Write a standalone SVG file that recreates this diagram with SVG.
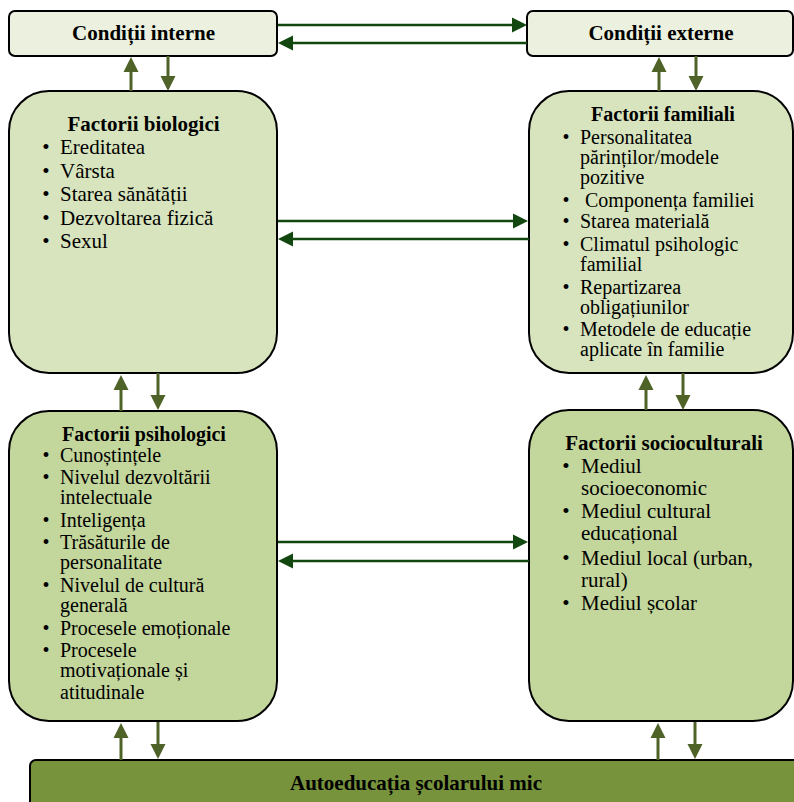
<svg xmlns="http://www.w3.org/2000/svg" width="794" height="802" viewBox="0 0 794 802">
<style>
.box{stroke:#000;stroke-width:2}
.c1{fill:#ebf1de}
.c2{fill:#d7e4bd}
.c3{fill:#c3d69b}
.c4{fill:#77933c}
text{font-family:"Liberation Serif","Times New Roman",serif;fill:#000}
.t{font-weight:bold;text-anchor:middle}
.s21{font-size:21px}
.s20{font-size:20px}
.b{text-anchor:middle}
.dg{stroke:#12470f;stroke-width:2.6;fill:none}
.ol{stroke:#4f6228;stroke-width:3;fill:none}
</style>
<defs>
<marker id="ahD" markerUnits="userSpaceOnUse" markerWidth="16" markerHeight="16" viewBox="0 0 16 16" refX="1" refY="8" orient="auto">
<path d="M0,0.5 L15,8 L0,15.5 z" fill="#12470f"/>
</marker>
<marker id="ahO" markerUnits="userSpaceOnUse" markerWidth="16" markerHeight="16" viewBox="0 0 16 16" refX="1" refY="8" orient="auto">
<path d="M0,0.5 L15,8 L0,15.5 z" fill="#4f6228"/>
</marker>
</defs>

<g id="conditii-interne">
<rect class="box c1" x="9" y="11" width="268" height="45" rx="6"/>
<text class="t s21" x="143.5" y="40">Condiții interne</text>
</g>

<g id="conditii-externe">
<rect class="box c1" x="527" y="11" width="266" height="45" rx="6"/>
<text class="t s21" x="661" y="40">Condiții externe</text>
</g>

<g id="factorii-biologici">
<rect class="box c2" x="9" y="91" width="268" height="282" rx="40"/>
<text class="t s21" x="143.5" y="131">Factorii biologici</text>
<g class="s21">
<text class="b" x="46" y="154">•</text><text x="60" y="154">Ereditatea</text>
<text class="b" x="46" y="177.5">•</text><text x="60" y="177.5">Vârsta</text>
<text class="b" x="46" y="201">•</text><text x="60" y="201">Starea sănătății</text>
<text class="b" x="46" y="224.5">•</text><text x="60" y="224.5">Dezvoltarea fizică</text>
<text class="b" x="46" y="248">•</text><text x="60" y="248">Sexul</text>
</g>
</g>

<g id="factorii-familiali">
<rect class="box c2" x="529" y="91" width="264" height="282" rx="40"/>
<text class="t s20" x="663" y="121">Factorii familiali</text>
<g class="s20">
<text class="b" x="566" y="144">•</text><text x="580" y="144">Personalitatea</text>
<text x="580" y="164">părinților/modele</text>
<text x="580" y="184">pozitive</text>
<text class="b" x="566" y="207">•</text><text x="585" y="207">Componența familiei</text>
<text class="b" x="566" y="228">•</text><text x="580" y="228">Starea materială</text>
<text class="b" x="566" y="251">•</text><text x="580" y="251">Climatul psihologic</text>
<text x="580" y="271">familial</text>
<text class="b" x="566" y="294">•</text><text x="580" y="294">Repartizarea</text>
<text x="580" y="314">obligațiunilor</text>
<text class="b" x="566" y="336">•</text><text x="580" y="336">Metodele de educație</text>
<text x="580" y="356">aplicate în familie</text>
</g>
</g>

<g id="factorii-psihologici">
<rect class="box c3" x="9" y="411" width="268" height="310" rx="40"/>
<text class="t s20" x="144" y="441">Factorii psihologici</text>
<g class="s20">
<text class="b" x="46" y="461.7">•</text><text x="60" y="461.7">Cunoștințele</text>
<text class="b" x="46" y="484.3">•</text><text x="60" y="484.3">Nivelul dezvoltării</text>
<text x="60" y="504.3">intelectuale</text>
<text class="b" x="46" y="526.7">•</text><text x="60" y="526.7">Inteligența</text>
<text class="b" x="46" y="549">•</text><text x="60" y="549">Trăsăturile de</text>
<text x="60" y="569.3">personalitate</text>
<text class="b" x="46" y="591.7">•</text><text x="60" y="591.7">Nivelul de cultură</text>
<text x="60" y="611.7">generală</text>
<text class="b" x="46" y="635">•</text><text x="60" y="635">Procesele emoționale</text>
<text class="b" x="46" y="656.7">•</text><text x="60" y="656.7">Procesele</text>
<text x="60" y="677.3">motivaționale și</text>
<text x="60" y="699.3">atitudinale</text>
</g>
</g>

<g id="factorii-socioculturali">
<rect class="box c3" x="529" y="410" width="264" height="311" rx="40"/>
<text class="t s21" x="664" y="450">Factorii socioculturali</text>
<g class="s21">
<text class="b" x="566" y="473.3">•</text><text x="581" y="473.3">Mediul</text>
<text x="581" y="495">socioeconomic</text>
<text class="b" x="566" y="518.3">•</text><text x="581" y="518.3">Mediul cultural</text>
<text x="581" y="540">educațional</text>
<text class="b" x="566" y="565">•</text><text x="581" y="565">Mediul local (urban,</text>
<text x="581" y="586.7">rural)</text>
<text class="b" x="566" y="610">•</text><text x="581" y="610">Mediul școlar</text>
</g>
</g>

<g id="autoeducatia">
<rect class="box c4" x="30" y="760" width="780" height="60" rx="6"/>
<text class="t s21" x="416" y="790">Autoeducația școlarului mic</text>
</g>

<g id="connectors">
<line class="dg" x1="278" y1="25" x2="513" y2="25" marker-end="url(#ahD)"/>
<line class="dg" x1="527" y1="43" x2="292" y2="43" marker-end="url(#ahD)"/>
<line class="dg" x1="278" y1="221" x2="514" y2="221" marker-end="url(#ahD)"/>
<line class="dg" x1="529" y1="239" x2="292" y2="239" marker-end="url(#ahD)"/>
<line class="dg" x1="278" y1="542" x2="514" y2="542" marker-end="url(#ahD)"/>
<line class="dg" x1="529" y1="561" x2="292" y2="561" marker-end="url(#ahD)"/>

<line class="ol" x1="131" y1="91" x2="131" y2="71" marker-end="url(#ahO)"/>
<line class="ol" x1="168" y1="56" x2="168" y2="77" marker-end="url(#ahO)"/>
<line class="ol" x1="659" y1="91" x2="659" y2="71" marker-end="url(#ahO)"/>
<line class="ol" x1="696" y1="56" x2="696" y2="77" marker-end="url(#ahO)"/>

<line class="ol" x1="121" y1="411" x2="121" y2="389" marker-end="url(#ahO)"/>
<line class="ol" x1="158" y1="373" x2="158" y2="396" marker-end="url(#ahO)"/>
<line class="ol" x1="646" y1="410" x2="646" y2="389" marker-end="url(#ahO)"/>
<line class="ol" x1="683" y1="373" x2="683" y2="396" marker-end="url(#ahO)"/>

<line class="ol" x1="121" y1="760" x2="121" y2="737" marker-end="url(#ahO)"/>
<line class="ol" x1="158" y1="722" x2="158" y2="745" marker-end="url(#ahO)"/>
<line class="ol" x1="658" y1="760" x2="658" y2="737" marker-end="url(#ahO)"/>
<line class="ol" x1="695" y1="722" x2="695" y2="745" marker-end="url(#ahO)"/>
</g>
</svg>
